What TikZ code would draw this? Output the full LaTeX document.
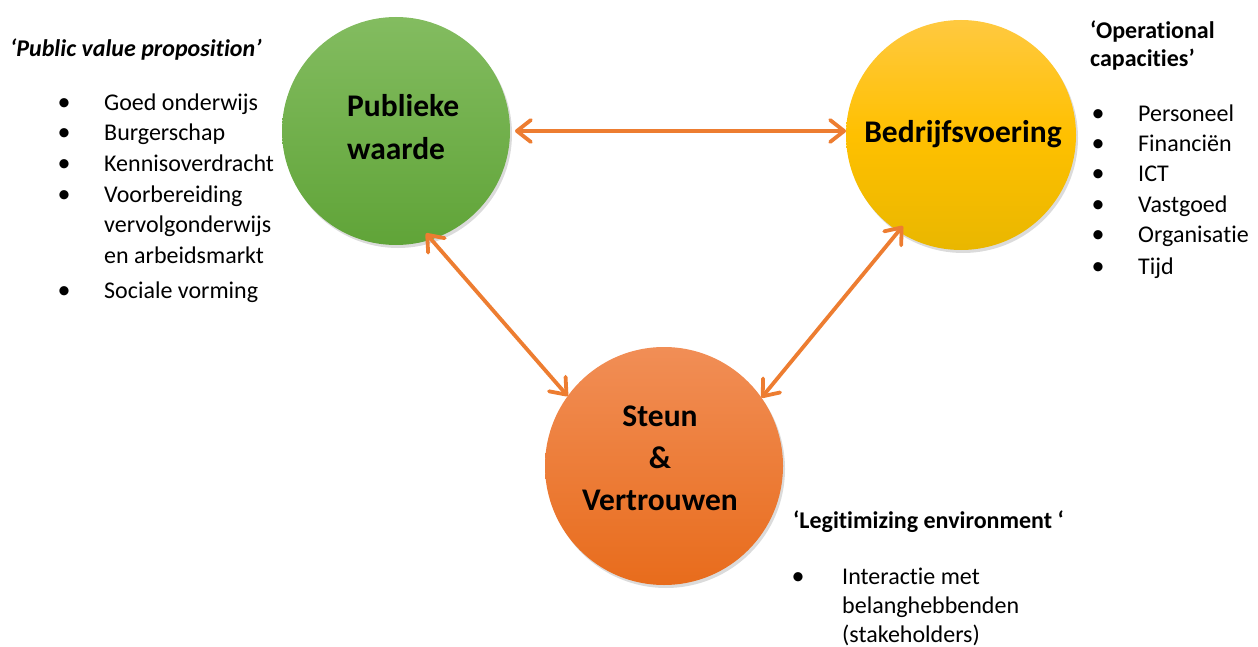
\documentclass[tikz,border=0pt]{standalone}
\usepackage{fontspec}
\setmainfont{Carlito}[Ligatures=NoCommon,RawFeature={-calt}]
\usetikzlibrary{arrows.meta,shadows}
\definecolor{arrorange}{RGB}{237,125,49}
\definecolor{gtop}{RGB}{131,188,96}
\definecolor{gbot}{RGB}{96,164,56}
\definecolor{ytop}{RGB}{255,201,64}
\definecolor{ymid}{RGB}{255,192,0}
\definecolor{ybot}{RGB}{233,183,0}
\definecolor{otop}{RGB}{241,142,86}
\definecolor{obot}{RGB}{232,108,28}
\tikzset{
  ball/.style={circle, inner sep=0pt, outer sep=0pt, draw=none,
    drop shadow={shadow xshift=2pt, shadow yshift=-3pt, opacity=0.2, fill=black!70}},
  arr/.style={draw=arrorange, line width=3.8pt,
    {Straight Barb[length=14pt,width=22pt,round]}-{Straight Barb[length=14pt,width=22pt,round]}},
  lbl/.style={font=\fontsize{31.5}{42}\selectfont\bfseries, anchor=base, inner sep=0pt},
  lblw/.style={lbl, anchor=base west},
  txt/.style={font=\fontsize{24}{29}\selectfont, anchor=base west, inner sep=0pt},
  head/.style={font=\fontsize{24}{29}\selectfont\bfseries, anchor=base west, inner sep=0pt},
  bul/.style={font=\fontsize{26}{29}\selectfont, anchor=base, inner sep=0pt},
}
\begin{document}
\begin{tikzpicture}[x=1pt,y=-1pt]
\useasboundingbox (0,0) rectangle (1258,647);

% circles
\node[ball, minimum size=228pt, top color=gtop, bottom color=gbot] (pw) at (396,131) {};
\node[ball, minimum size=230pt, top color=ytop, bottom color=ybot, middle color=ymid] (bv) at (961,135) {};
\node[ball, minimum size=238pt, top color=otop, bottom color=obot] (sv) at (664,466) {};

% circle labels
\node[lblw] (pw1) at (347,117) {Publieke};
\node[lblw] (pw2) at (347,160) {waarde};
\node[lbl] (bv1) at (963,143) {Bedrijfsvoering};
\node[lbl] (sv1) at (660,426) {Steun};
\node[lbl] (sv2) at (660,468) {\&};
\node[lbl] (sv3) at (660,510) {Vertrouwen};

% connectors
\draw[arr] ([xshift=5pt]pw.east) -- (pw.east -| bv.west);
\draw[arr, shorten <=-8pt] (pw.-72) -- (sv.144);
\draw[arr, shorten <=-7pt] (bv.-123) -- (sv.35);

% left text
\node[head, font=\fontsize{24}{29}\selectfont\bfseries\itshape] (h1) at (10,57) {‘Public value proposition’};
\node[bul] (lb1) at (64,111) {•};
\node[txt] (l1) at (104,111) {Goed onderwijs};
\node[bul] (lb2) at (64,141) {•};
\node[txt] (l2) at (104,141) {Burgerschap};
\node[bul] (lb3) at (64,172) {•};
\node[txt] (l3) at (104,172) {Kennisoverdracht};
\node[bul] (lb4) at (64,203) {•};
\node[txt] (l4) at (104,203) {Voorbereiding};
\node[txt] (l5) at (104,233) {vervolgonderwijs};
\node[txt] (l6) at (104,263) {en arbeidsmarkt};
\node[bul] (lb7) at (64,298) {•};
\node[txt] (l7) at (104,298) {Sociale vorming};

% right text
\node[head] (h2a) at (1090,39) {‘Operational};
\node[head] (h2b) at (1090,67) {capacities’};
\node[bul] (rb1) at (1098,122) {•};
\node[txt] (r1) at (1138,122) {Personeel};
\node[bul] (rb2) at (1098,152) {•};
\node[txt] (r2) at (1138,152) {Financiën};
\node[bul] (rb3) at (1098,182) {•};
\node[txt] (r3) at (1138,182) {ICT};
\node[bul] (rb4) at (1098,213) {•};
\node[txt] (r4) at (1138,213) {Vastgoed};
\node[bul] (rb5) at (1098,243) {•};
\node[txt] (r5) at (1138,243) {Organisatie};
\node[bul] (rb6) at (1098,274) {•};
\node[txt] (r6) at (1138,274) {Tijd};

% bottom text
\node[head] (h3) at (793,528) {‘Legitimizing environment ‘};
\node[bul] (bb1) at (798,584) {•};
\node[txt] (b1) at (842,584) {Interactie met};
\node[txt] (b2) at (842,613) {belanghebbenden};
\node[txt] (b3) at (842,642) {(stakeholders)};
\end{tikzpicture}
\end{document}
